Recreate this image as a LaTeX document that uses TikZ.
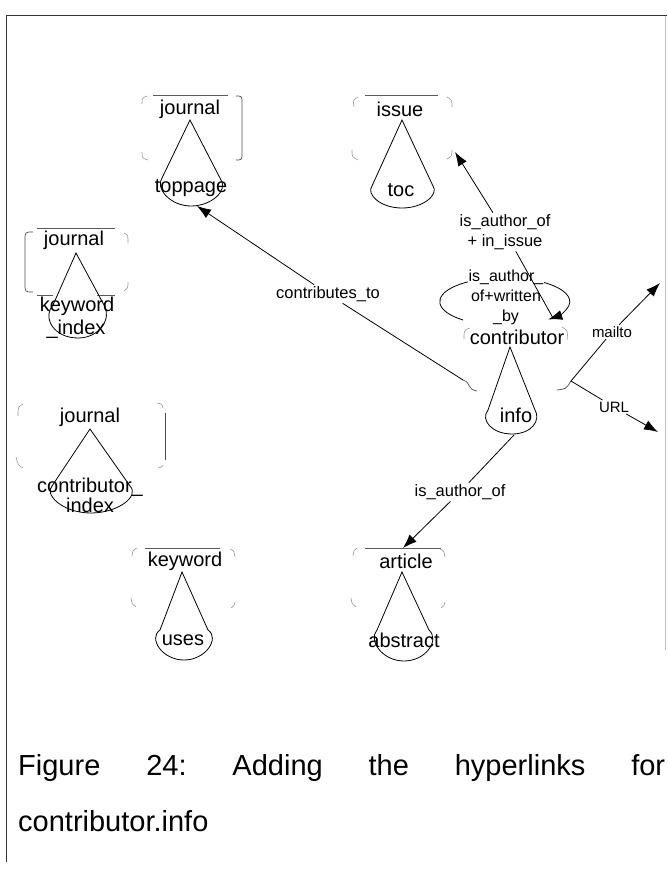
\documentclass[tikz,border=0pt]{standalone}
\usepackage{fontspec}
\setmainfont{Liberation Sans}
\usetikzlibrary{arrows.meta}
\begin{document}
\begin{tikzpicture}[x=1pt,y=-1pt,
  nlab/.style={font=\fontsize{20}{18}\selectfont, inner sep=0pt, align=center},
  elab/.style={font=\fontsize{16.5}{20}\selectfont, inner sep=1.5pt, align=center},
  slab/.style={font=\fontsize{15}{17}\selectfont, inner sep=1.5pt},
  cone/.style={draw=black, line width=0.8pt},
  ovl/.style={draw=black!65, line width=0.7pt},
  fr/.style={draw=black!40, line width=0.6pt},
  frd/.style={draw=black!70, line width=0.7pt},
  link/.style={draw=black, line width=0.8pt},
  tip/.style={-{Latex[length=14pt,width=10pt]}},
]
\useasboundingbox (0,0) rectangle (667,875);
\fill[white] (0,0) rectangle (667,875);

% page rules
\draw[black!80, line width=1pt] (6,862) -- (6,16) -- (667,16);
\draw[black!25, line width=0.6pt] (665,16) -- (665,650);

% ---- journal / toppage
\node[nlab] (j1) at (190,109) {journal};
\draw[ovl] (153,95) -- (228,95);
\draw[cone] (162,178) -- (190,120) -- (221,180);
\draw[cone] (162,178) .. controls (155,188) and (170,206) .. (191,206) .. controls (212,206) and (228,190) .. (221,180);
\node[nlab] (tp) at (191,188) {toppage};
\draw[fr] (142,104) .. controls (142,98) .. (147,96);
\draw[fr] (142,152) .. controls (142,158) .. (148,160);
\draw[frd] (236,96) .. controls (242,96) .. (242,104) -- (242,152) .. controls (242,160) .. (236,160);

% ---- issue / toc
\node[nlab] (is) at (400,109) {issue};
\draw[ovl] (365,95) -- (438,95);
\draw[cone] (372,186) -- (402,120) -- (433,186);
\draw[cone] (372,186) .. controls (366,194) and (380,208) .. (402,208) .. controls (424,208) and (439,194) .. (433,186);
\node[nlab] (toc) at (401,190) {toc};
\draw[fr] (354,107) .. controls (353,100) .. (358,97);
\draw[fr] (352,150) .. controls (352,157) .. (358,160);
\draw[fr] (447,97) .. controls (452,100) .. (452,107);
\draw[fr] (452,150) .. controls (452,156) .. (447,159);

% ---- journal / keyword_index
\node[nlab] (j3) at (74,240) {journal};
\draw[ovl] (37,228) -- (115,228);
\draw[ovl] (37,295) -- (53,295);
\draw[ovl] (97,295) -- (115,295);
\draw[cone] (53,305) -- (76,253) -- (104,305);
\draw[cone] (53,305) .. controls (42,318) and (54,338) .. (78,338) .. controls (100,338) and (112,318) .. (104,305);
\node[nlab] (kwi) at (77,306) {keyword};
\node[nlab] (kwx) at (76,329) {\_index};
\draw[frd] (33,232) .. controls (25,232) .. (25,240) -- (25,284) .. controls (25,292) .. (33,292);
\draw[fr] (124,233) .. controls (128,235) .. (128,243);
\draw[fr] (128,282) .. controls (128,288) .. (124,291);

% ---- journal / contributor_index
\node[nlab] (j4) at (90,417) {journal};
\draw[cone] (52,486) -- (90,429) -- (130,486);
\draw[cone] (52,486) .. controls (44,494) and (62,513) .. (91,513) .. controls (118,513) and (140,496) .. (130,486);
\node[nlab] (cti) at (90,487) {contributor\_};
\node[nlab] (ctx) at (90,505) {index};
\draw[fr] (18,416) .. controls (18,407) .. (23,404);
\draw[fr] (16,457) .. controls (18,465) .. (23,468);
\draw[fr] (157,403) .. controls (162,404) .. (163,408);
\draw[frd] (165,413) -- (165,460);
\draw[fr] (163,465) .. controls (162,467) .. (158,468);

% ---- keyword / uses
\node[nlab] (kw) at (185,561) {keyword};
\draw[ovl] (145,548) -- (220,548);
\draw[cone] (160,630) -- (182,572) -- (208,630);
\draw[cone] (160,630) .. controls (148,638) and (162,660) .. (184,660) .. controls (206,660) and (220,638) .. (208,630);
\node[nlab] (us) at (183,640) {uses};
\draw[fr] (132,556) .. controls (133,550) .. (137,548);
\draw[fr] (131,598) .. controls (132,604) .. (136,607);
\draw[fr] (230,549) .. controls (234,551) .. (235,557);
\draw[fr] (235,602) .. controls (234,606) .. (231,608);

% ---- article / abstract
\node[nlab] (ar) at (406,561) {article};
\draw[ovl] (365,548) -- (441,548);
\draw[cone] (377,630) -- (402,572) -- (429,630);
\draw[cone] (377,630) .. controls (368,640) and (382,661) .. (404,661) .. controls (426,661) and (440,640) .. (429,630);
\node[nlab] (ab) at (404,640) {abstract};
\draw[fr] (353,556) .. controls (354,550) .. (357,548);
\draw[fr] (351,598) .. controls (352,604) .. (356,607);
\draw[fr] (440,549) .. controls (444,551) .. (445,557);
\draw[fr] (445,602) .. controls (444,606) .. (441,608);

% ---- contributor / info
\node[nlab] (co) at (517,337) {contributor};
\draw[cone] (488,410) -- (510,347) -- (535,410);
\draw[cone] (488,410) .. controls (480,420) and (492,434) .. (512,434) .. controls (532,434) and (541,420) .. (535,410);
\node[nlab] (inf) at (516,415) {info};
\draw[fr] (470,328) .. controls (464,330) .. (464,339);
\draw[fr] (562,327) .. controls (568,331) .. (567,340);
\coordinate (cbl) at (463,380);
\coordinate (cbr) at (571,381);
\draw[frd] (cbl) .. controls (472,383) and (466,389) .. (477,391);
\draw[frd] (557,390) .. controls (566,389) .. (cbr);

% ---- links
\coordinate (tpin) at (197,206);
\node[elab] (lct) at (328,294) {contributes\_to};
\draw[link] (cbl) -- (lct);
\draw[link,tip] (lct) -- (tpin);

\coordinate (loopstart) at (463,320);
\coordinate (loopend) at (553,318);
\draw[link,tip] (loopstart) arc[start angle=230, end angle=-48, x radius=65pt, y radius=24pt];
\node[elab, fill=white, inner sep=0.5pt, font=\fontsize{16}{20}\selectfont] (lw) at (506,297) {is\_author\_\\of+written\\\_by};

\coordinate (isin) at (455,152);
\node[elab] (lai) at (505,232) {is\_author\_of\\+ in\_issue};
\draw[link,tip] (lai) -- (isin);
\draw[link] (lai) -- (loopend);

\coordinate (mt) at (660,283);
\node[slab] (lm) at (612,332) {mailto};
\draw[link] (cbr) -- (lm);
\draw[link,tip] (lm) -- (mt);

\coordinate (ut) at (658,432);
\node[slab] (lu) at (614,407) {URL};
\draw[link] (cbr) -- (lu);
\draw[link,tip] (lu) -- (ut);

\coordinate (infb) at (514,435);
\coordinate (arin) at (403,548);
\node[elab] (lia) at (460,492) {is\_author\_of};
\draw[link] (infb) -- (lia);
\draw[link,tip] (lia) -- (arin);

% ---- caption
\node[anchor=base west, inner sep=0pt, font=\fontsize{29}{34}\selectfont] (cap1) at (18,775)
  {\makebox[647pt][s]{Figure\hfill 24:\hfill Adding\hfill the\hfill hyperlinks\hfill for}};
\node[anchor=base west, inner sep=0pt, font=\fontsize{29}{34}\selectfont] (cap2) at (18,831) {contributor.info};
\end{tikzpicture}
\end{document}
